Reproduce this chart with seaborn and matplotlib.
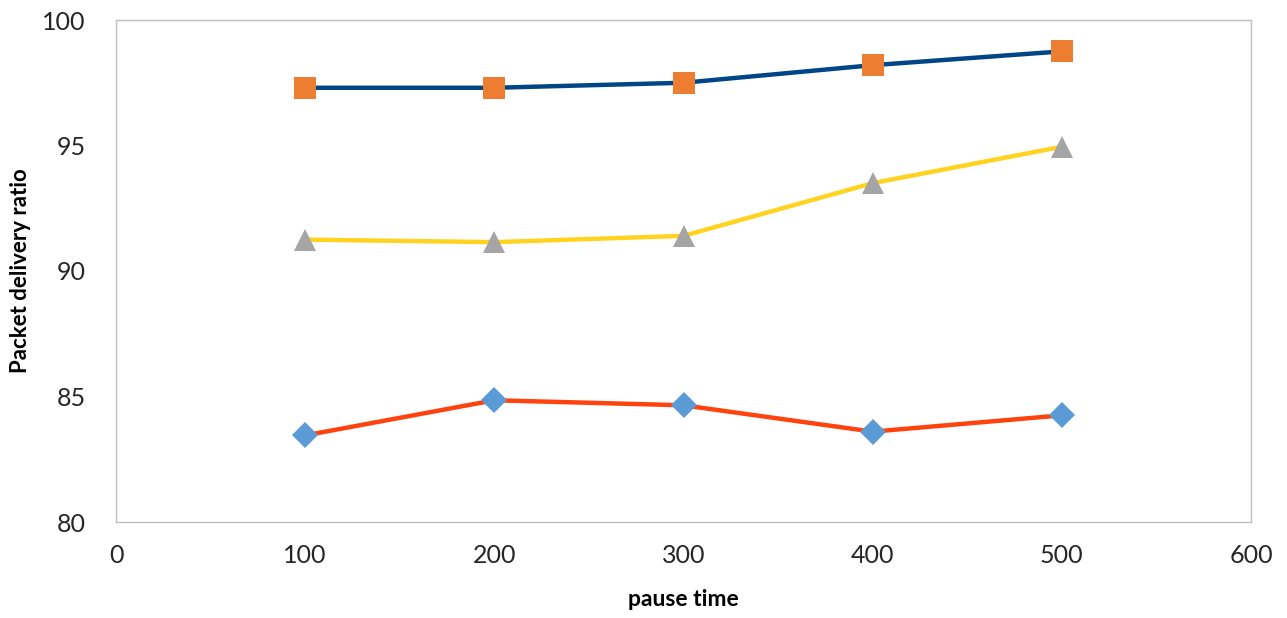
import matplotlib
matplotlib.use("Agg")
import matplotlib.pyplot as plt
import seaborn as sns
import pandas as pd

pause_time = [100, 200, 300, 400, 500]
series_top = [97.3, 97.3, 97.5, 98.2, 98.75]
series_mid = [91.25, 91.15, 91.4, 93.5, 94.95]
series_low = [83.45, 84.85, 84.65, 83.6, 84.25]

x_ticks = [0, 100, 200, 300, 400, 500, 600]
y_ticks = [80, 85, 90, 95, 100]

sns.set_theme(style="white")
plt.rcParams['font.family'] = ['Lato', 'DejaVu Sans']

fig = plt.figure(figsize=(12.87, 6.18), dpi=100)
ax = fig.add_axes([116/1287, 1 - 522/618, (1251-116)/1287, (522-20)/618])

styles = [
    (series_top, "#004586", "s", "#ED7D31", 16.5),
    (series_mid, "#FFD320", "^", "#A5A5A5", 16.5),
    (series_low, "#FF420E", "D", "#5B9BD5", 13),
]
for vals, lc, mk, mc, ms in styles:
    df = pd.DataFrame({"x": pause_time, "y": vals})
    sns.lineplot(data=df, x="x", y="y", ax=ax, color=lc, linewidth=3.2,
                 marker=mk, markersize=ms, markerfacecolor=mc,
                 markeredgecolor=mc, markeredgewidth=0)

ax.set_xlim(0, 600)
ax.set_ylim(80, 100)
ax.set_xticks(x_ticks)
ax.set_yticks(y_ticks)
ax.tick_params(axis="both", labelsize=18, colors="#262626", length=0)
ax.tick_params(axis="x", pad=16)
ax.tick_params(axis="y", pad=22)
for s in ax.spines.values():
    s.set_color("#BFBFBF")
    s.set_linewidth(1)
ax.set_xlabel("pause time", fontsize=16.5, fontweight="bold", color="#000000", labelpad=16)
ax.set_ylabel("Packet delivery ratio", fontsize=16, fontweight="bold", color="#000000")
ax.yaxis.set_label_coords(-0.0845, 0.5)
ax.yaxis.label.set_va("center")
ax.grid(False)

fig.savefig("out.png", dpi=100)
